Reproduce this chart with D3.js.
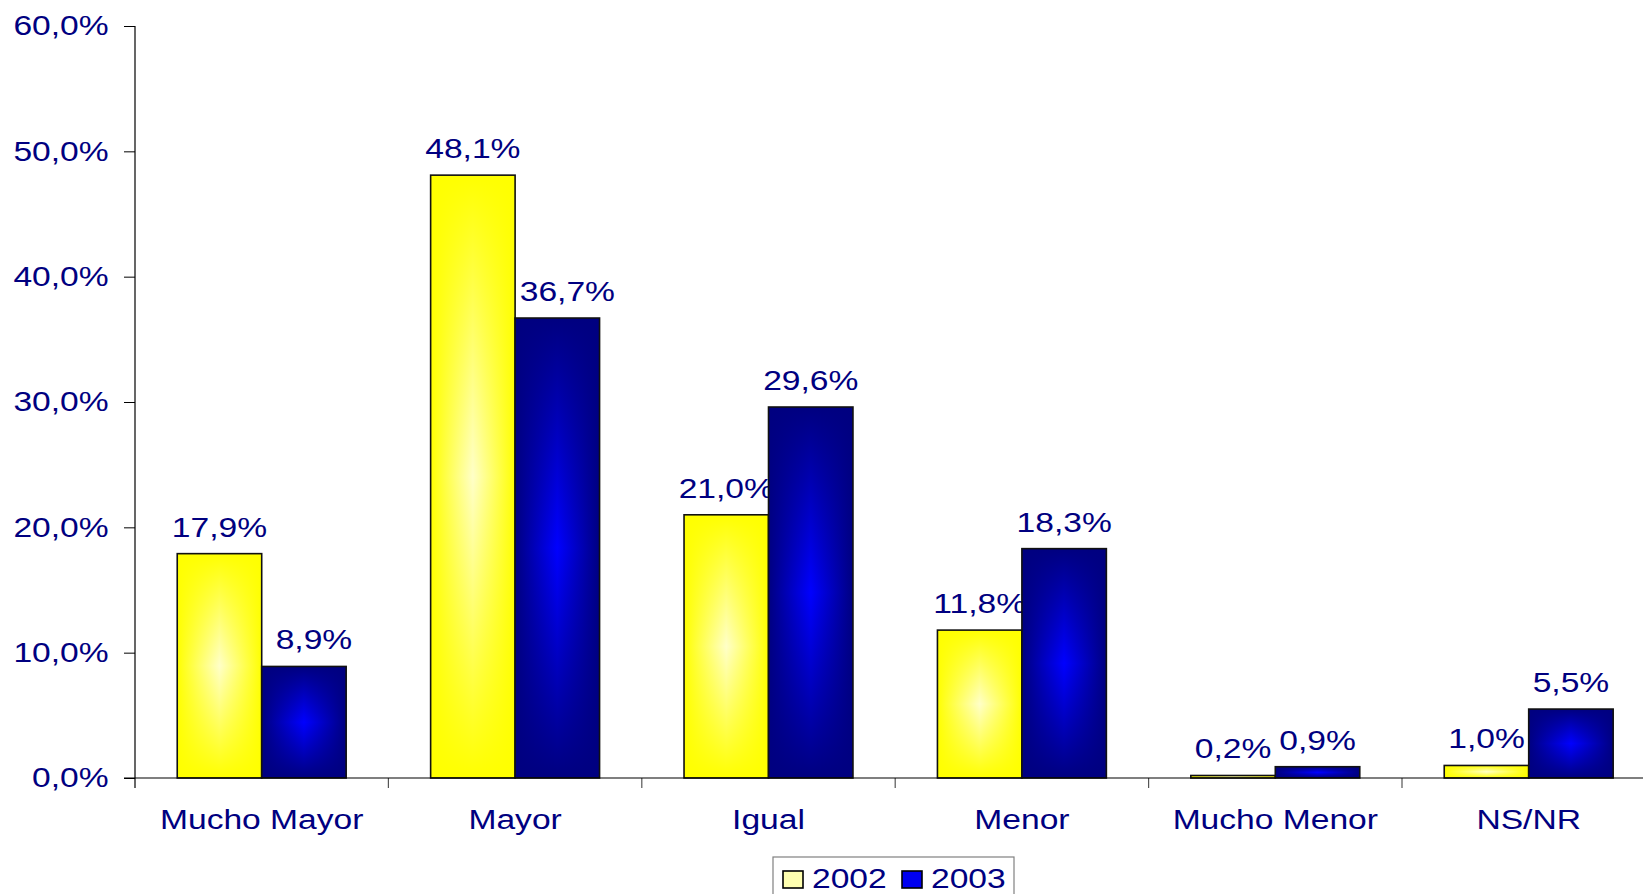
<!DOCTYPE html>
<html>
<head>
<meta charset="utf-8">
<script src="https://cdn.jsdelivr.net/npm/d3@7"></script>
<style>
  html, body { margin: 0; padding: 0; background: #fff; overflow: hidden; }
  svg { display: block; font-family: "Liberation Sans", Arial, sans-serif; }
</style>
</head>
<body>
<svg id="chart" width="1643" height="894"></svg>
<script>
// datos
const categorias = ["Mucho Mayor", "Mayor", "Igual", "Menor", "Mucho Menor", "NS/NR"];
const series = ["2002", "2003"];
const valores2002 = [17.9, 48.1, 21.0, 11.8, 0.2, 1.0];
const valores2003 = [8.9, 36.7, 29.6, 18.3, 0.9, 5.5];
const ticksY = [0, 10, 20, 30, 40, 50, 60];

const AZUL_TXT = "#000080";
const SX = 1.2; // el texto original aparece ensanchado

const svg = d3.select("#chart");
const defs = svg.append("defs");

// degradado "desde el centro": horizontal + capa vertical encima
function gradiente(id, centro, borde) {
  const h = defs.append("linearGradient").attr("id", id + "h")
    .attr("x1", "0%").attr("x2", "100%").attr("y1", "0%").attr("y2", "0%");
  h.append("stop").attr("offset", "0%").attr("stop-color", borde);
  h.append("stop").attr("offset", "50%").attr("stop-color", centro);
  h.append("stop").attr("offset", "100%").attr("stop-color", borde);
  const v = defs.append("linearGradient").attr("id", id + "v")
    .attr("x1", "0%").attr("x2", "0%").attr("y1", "0%").attr("y2", "100%");
  v.append("stop").attr("offset", "0%").attr("stop-color", borde).attr("stop-opacity", 1);
  v.append("stop").attr("offset", "50%").attr("stop-color", borde).attr("stop-opacity", 0);
  v.append("stop").attr("offset", "100%").attr("stop-color", borde).attr("stop-opacity", 1);
}
gradiente("g2002", "#ffffc8", "#ffff00");
gradiente("g2003", "#0000ff", "#000080");

const x0 = d3.scaleBand().domain(categorias).range([135, 135 + 6 * 253.4]).padding(0);
const bw = x0.bandwidth();
const x1 = d3.scaleBand().domain(series).range([bw / 6, bw * 5 / 6]).padding(0);
const y = d3.scaleLinear().domain([0, 60]).range([778, 26]);

const fmt = v => d3.format(".1f")(v).replace(".", ",") + "%";

// eje Y
const ejeY = svg.append("g")
  .attr("transform", "translate(135,0)")
  .call(d3.axisLeft(y).tickValues(ticksY).tickSize(11).tickSizeOuter(0).tickPadding(11).tickFormat(fmt));
ejeY.select(".domain").remove();
ejeY.selectAll(".tick line").attr("stroke", "#000");
ejeY.selectAll("text")
  .attr("fill", AZUL_TXT).attr("font-size", 28).attr("font-family", "Liberation Sans, Arial, sans-serif")
  .attr("transform", `scale(${SX},1)`);
svg.append("line").attr("x1", 135).attr("x2", 135).attr("y1", y(60)).attr("y2", 788)
  .attr("stroke", "#000").attr("stroke-width", 1.2);

// eje X
const ejeX = svg.append("g")
  .attr("transform", `translate(0,${y(0)})`)
  .call(d3.axisBottom(x0).tickSize(0).tickPadding(31));
ejeX.select(".domain").remove();
ejeX.selectAll("text")
  .attr("fill", AZUL_TXT).attr("font-size", 28).attr("font-family", "Liberation Sans, Arial, sans-serif")
  .attr("transform", `scale(${SX},1)`);
ejeX.selectAll(".lim")
  .data(categorias.slice(1))
  .enter().append("line")
  .attr("x1", d => x0(d)).attr("x2", d => x0(d))
  .attr("y1", 0).attr("y2", 10)
  .attr("stroke", "#555").attr("stroke-width", 1.2);

// barras y etiquetas, serie por serie
const todas = [valores2002, valores2003];
todas.forEach((vals, i) => {
  const s = series[i];
  const g = svg.append("g");
  const barras = g.selectAll("g.barra")
    .data(vals)
    .enter().append("g").attr("class", "barra")
    .attr("transform", (d, j) => `translate(${x0(categorias[j]) + x1(s)},${y(d)})`);
  barras.append("rect")
    .attr("width", x1.bandwidth()).attr("height", d => y(0) - y(d))
    .attr("fill", `url(#g${s}h)`);
  barras.append("rect")
    .attr("width", x1.bandwidth()).attr("height", d => y(0) - y(d))
    .attr("fill", `url(#g${s}v)`);
  barras.append("rect")
    .attr("width", x1.bandwidth()).attr("height", d => y(0) - y(d))
    .attr("fill", "none").attr("stroke", "#111").attr("stroke-width", 1.6);

  // si la barra anterior del grupo tapa la etiqueta, se corre a la derecha
  const corrimiento = (d, j) => (i > 0 && todas[i - 1][j] > d + 2 ? 10 : 0);
  g.selectAll("text")
    .data(vals)
    .enter().append("text")
    .attr("transform", (d, j) =>
      `translate(${x0(categorias[j]) + x1(s) + x1.bandwidth() / 2 + corrimiento(d, j)},${y(d) - 17}) scale(${SX},1)`)
    .attr("text-anchor", "middle")
    .attr("font-size", 28)
    .attr("fill", AZUL_TXT)
    .text(d => fmt(d));
});

// eje X línea base
svg.append("line").attr("x1", 124).attr("x2", 1643).attr("y1", y(0)).attr("y2", y(0))
  .attr("stroke", "#000").attr("stroke-width", 1.2);

// leyenda
const ley = svg.append("g");
ley.append("rect").attr("x", 773).attr("y", 857).attr("width", 241).attr("height", 50)
  .attr("fill", "#fff").attr("stroke", "#808080").attr("stroke-width", 1.2);
const posLey = [{ sw: 783, tx: 812 }, { sw: 902, tx: 931 }];
series.forEach((s, i) => {
  ley.append("rect").attr("x", posLey[i].sw).attr("y", 871).attr("width", 20).attr("height", 17)
    .attr("fill", i === 0 ? "#ffffb0" : "#0000f0").attr("stroke", "#000").attr("stroke-width", 1.6);
  ley.append("text")
    .attr("transform", `translate(${posLey[i].tx},888) scale(${SX},1)`)
    .attr("font-size", 28).attr("fill", AZUL_TXT)
    .text(s);
});
</script>
</body>
</html>
